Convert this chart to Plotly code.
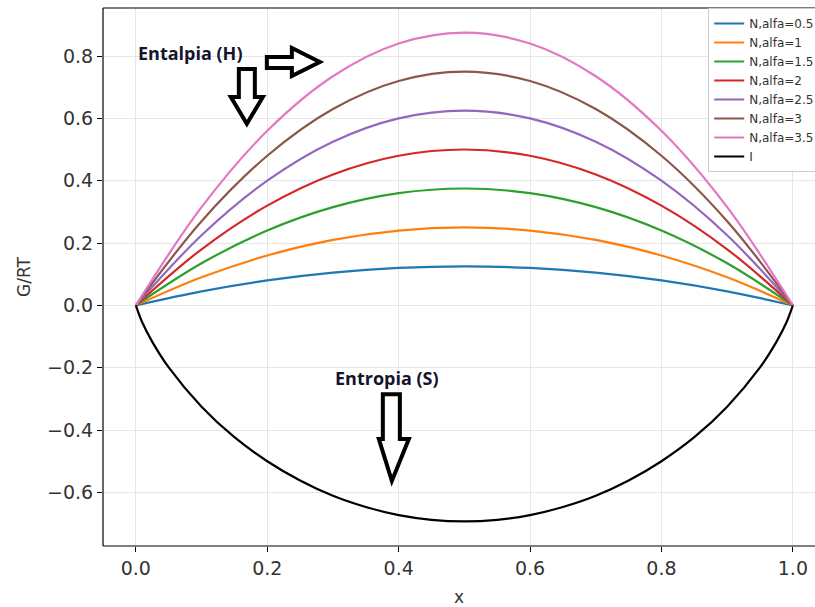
import plotly.graph_objects as go

# ---- data ----
x_mix = [0.0, 0.1, 0.2, 0.3, 0.4, 0.5, 0.6, 0.7, 0.8, 0.9, 1.0]
alfa_labels = ["N,alfa=0.5", "N,alfa=1", "N,alfa=1.5", "N,alfa=2",
               "N,alfa=2.5", "N,alfa=3", "N,alfa=3.5"]
g_alfa_05 = [0, 0.045, 0.08, 0.105, 0.12, 0.125, 0.12, 0.105, 0.08, 0.045, 0]
g_alfa_1 = [0, 0.09, 0.16, 0.21, 0.24, 0.25, 0.24, 0.21, 0.16, 0.09, 0]
g_alfa_15 = [0, 0.135, 0.24, 0.315, 0.36, 0.375, 0.36, 0.315, 0.24, 0.135, 0]
g_alfa_2 = [0, 0.18, 0.32, 0.42, 0.48, 0.50, 0.48, 0.42, 0.32, 0.18, 0]
g_alfa_25 = [0, 0.225, 0.40, 0.525, 0.60, 0.625, 0.60, 0.525, 0.40, 0.225, 0]
g_alfa_3 = [0, 0.27, 0.48, 0.63, 0.72, 0.75, 0.72, 0.63, 0.48, 0.27, 0]
g_alfa_35 = [0, 0.315, 0.56, 0.735, 0.84, 0.875, 0.84, 0.735, 0.56, 0.315, 0]

x_ideal = [0.0, 0.01, 0.025, 0.05, 0.1, 0.15, 0.2, 0.25, 0.3, 0.35, 0.4, 0.45, 0.5,
           0.55, 0.6, 0.65, 0.7, 0.75, 0.8, 0.85, 0.9, 0.95, 0.975, 0.99, 1.0]
g_ideal = [0.0, -0.056, -0.117, -0.199, -0.325, -0.423, -0.500, -0.562, -0.611,
           -0.647, -0.673, -0.688, -0.693, -0.688, -0.673, -0.647, -0.611, -0.562,
           -0.500, -0.423, -0.325, -0.199, -0.117, -0.056, 0.0]
ideal_label = "I"

series = [g_alfa_05, g_alfa_1, g_alfa_15, g_alfa_2, g_alfa_25, g_alfa_3, g_alfa_35]
colors = ["#1f77b4", "#ff7f0e", "#2ca02c", "#d62728", "#9467bd", "#8c564b", "#e377c2"]

x_ticks = [0.0, 0.2, 0.4, 0.6, 0.8, 1.0]
y_ticks = [-0.6, -0.4, -0.2, 0.0, 0.2, 0.4, 0.6, 0.8]

fig = go.Figure()
for lab, ys, c in zip(alfa_labels, series, colors):
    fig.add_trace(go.Scatter(x=x_mix, y=ys, mode="lines", name=lab,
                             line=dict(color=c, width=2.2, shape="spline")))
fig.add_trace(go.Scatter(x=x_ideal, y=g_ideal, mode="lines", name=ideal_label,
                         line=dict(color="black", width=2.2, shape="spline")))

# pixel -> data helpers for decorations
def dx(px):
    return (px - 136) / 657.0

def dy(py):
    return (306 - py) / 312.5

def poly(pts):
    return "M " + " L ".join(f"{dx(a):.5f},{dy(b):.5f}" for a, b in pts) + " Z"

arrow_right = [(267, 57), (292, 57), (292, 48), (320, 62), (292, 76), (292, 68), (267, 68)]
arrow_down1 = [(239, 69), (255, 69), (255, 97), (263, 97), (247, 124), (231, 97), (239, 97)]
arrow_down2 = [(383, 395), (400, 395), (400, 440), (409, 440), (392, 482), (379, 440), (383, 440)]

shapes = []
for a in (arrow_right, arrow_down1, arrow_down2):
    shapes.append(dict(type="path", xref="x", yref="y", path=poly(a),
                       line=dict(color="black", width=4), fillcolor="white", layer="above"))
# frame (left, bottom, top)
shapes += [
    dict(type="line", xref="paper", yref="paper", x0=0, x1=0, y0=0, y1=1,
         line=dict(color="black", width=1.2)),
    dict(type="line", xref="paper", yref="paper", x0=0, x1=1, y0=0, y1=0,
         line=dict(color="black", width=1.2)),
    dict(type="line", xref="paper", yref="paper", x0=0, x1=1, y0=1, y1=1,
         line=dict(color="black", width=1.2)),
]

annotations = [
    dict(x=dx(191), y=dy(53), xref="x", yref="y", text="<b>Entalpia (H)</b>",
         showarrow=False, font=dict(family="Open Sans", size=18, color="#14142e")),
    dict(x=dx(387), y=dy(379), xref="x", yref="y", text="<b>Entropia (S)</b>",
         showarrow=False, font=dict(family="Open Sans", size=18, color="#14142e")),
]

fig.update_layout(
    width=815, height=607,
    margin=dict(l=103, r=0, t=8, b=61, autoexpand=False),
    paper_bgcolor="white", plot_bgcolor="white",
    font=dict(family="DejaVu Sans", size=15, color="#333333"),
    showlegend=True,
    legend=dict(x=0.85, y=1, xanchor="left", yanchor="top",
                bgcolor="white", bordercolor="#cccccc", borderwidth=1,
                font=dict(family="DejaVu Sans", size=12, color="#333333"),
                itemwidth=30, tracegroupgap=0),
    shapes=shapes,
    annotations=annotations,
)
fig.update_xaxes(range=[-0.05, 1.0337], tickvals=x_ticks, ticktext=[f"{v:.1f}" for v in x_ticks],
                 tickfont=dict(size=19), automargin=False,
                 showgrid=True, gridcolor="#e6e6e6", gridwidth=1, zeroline=False,
                 ticks="outside", ticklen=5, tickcolor="black", showline=False,
                 title=dict(text="x", standoff=14, font=dict(size=17)))
fig.update_yaxes(range=[-0.772, 0.954], tickvals=y_ticks,
                 ticktext=[("\u2212" if v < 0 else "") + f"{abs(v):.1f}" for v in y_ticks],
                 tickfont=dict(size=19), automargin=False,
                 showgrid=True, gridcolor="#e6e6e6", gridwidth=1, zeroline=False,
                 ticks="outside", ticklen=5, tickcolor="black", showline=False,
                 title=dict(text="G/RT", standoff=12, font=dict(size=17)))

fig.write_html("out.html")
